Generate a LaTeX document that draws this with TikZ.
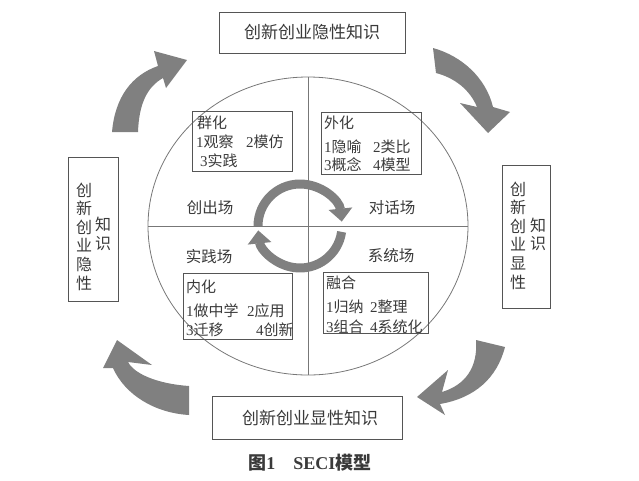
\documentclass[tikz,border=0pt]{standalone}
\usepackage{fontspec}
\setmainfont{Liberation Serif}
\newfontfamily\cjk{Noto Sans CJK SC}
\usetikzlibrary{arrows.meta}
\definecolor{inkgray}{HTML}{3A3A3A}
\definecolor{linegray}{HTML}{555555}
\definecolor{arrowgray}{HTML}{808080}
\newcommand{\szi}[1]{{\rmfamily #1}}
\begin{document}
\begin{tikzpicture}[x=1pt,y=-1pt,
		kbox/.style={draw=linegray,line width=0.9pt,inner sep=0pt},
		ktext/.style={text=inkgray,inner sep=0pt,font=\cjk\fontsize{15}{17}\selectfont},
		vtext/.style={text=inkgray,inner sep=0pt,align=center,font=\cjk\fontsize{16}{18.6}\selectfont},
		bigarrow/.style={fill=arrowgray},
		cyclearrow/.style={draw=arrowgray,line width=9pt,-{Triangle[width=23pt,length=13pt]}}]
		\useasboundingbox (0,0) rectangle (639,480);
		% ring and quadrants
		\coordinate (C) at (308,226);
		\draw[linegray!80,line width=0.8pt] (C) ellipse [x radius=160,y radius=149];
		\draw[linegray!80,line width=0.8pt] (308,77) coordinate (N) -- (308,375) coordinate (S);
		\draw[linegray!80,line width=0.8pt] (148,226) coordinate (W) -- (468,226) coordinate (E);
		% outer knowledge boxes
		\node[kbox,minimum width=186,minimum height=41] (tacitT) at (312,32.5) {};
		\node[ktext,font=\cjk\fontsize{17}{19}\selectfont] (tacitTt) at (tacitT) {创新创业隐性知识};
		\node[kbox,minimum width=190,minimum height=43] (explB) at (307,417.5) {};
		\node[ktext,font=\cjk\fontsize{17}{19}\selectfont] (explBt) at (310,418) {创新创业显性知识};
		\node[kbox,minimum width=50,minimum height=144] (tacitL) at (93,229) {};
		\node[vtext] (tacitLa) at (84,236.5) {创\\新\\创\\业\\隐\\性};
		\node[vtext] (tacitLb) at (103,234) {知\\识};
		\node[kbox,minimum width=48,minimum height=143] (explR) at (526,236.5) {};
		\node[vtext] (explRa) at (518,235.5) {创\\新\\创\\业\\显\\性};
		\node[vtext] (explRb) at (538,234.5) {知\\识};
		% big turning arrows
		\fill[bigarrow] (112,132) .. controls (115,97) and (132,75) .. (158,66) -- (154,51) -- (187,60) -- (166,88) -- (163,78) .. controls (147,87) and (139,104) .. (138,132) -- cycle;
		\fill[bigarrow] (433,48) .. controls (462,56) and (486,78) .. (493,107) -- (510,112) -- (488,133) -- (460,103) -- (477,107) .. controls (470,90) and (455,78) .. (436,73) -- cycle;
		\fill[bigarrow] (189,386) .. controls (160,384) and (135,375) .. (128,362) -- (152,365) -- (117,340) -- (103,368) -- (113,368) .. controls (125,395) and (155,413) .. (189,415) -- cycle;
		\fill[bigarrow] (476,340) .. controls (478,368) and (465,385) .. (442,392) -- (448,370) -- (417,397) -- (445,415) -- (440,404) .. controls (475,398) and (497,378) .. (505,347) -- cycle;
		% quadrant boxes
		\node[kbox,minimum width=100,minimum height=60] (soc) at (242,141) {};
		\node[ktext,anchor=west] (soc1) at (197,123) {群化};
		\node[ktext,anchor=west] (soc2) at (196,142) {\szi{1}观察};
		\node[ktext,anchor=west] (soc3) at (246,142) {\szi{2}模仿};
		\node[ktext,anchor=west] (soc4) at (200,161) {\szi{3}实践};
		\node[kbox,minimum width=100,minimum height=62] (ext) at (371,143) {};
		\node[ktext,anchor=west] (ext1) at (324,123) {外化};
		\node[ktext,anchor=west] (ext2) at (324,147) {\szi{1}隐喻};
		\node[ktext,anchor=west] (ext3) at (373,147) {\szi{2}类比};
		\node[ktext,anchor=west] (ext4) at (324,165) {\szi{3}概念};
		\node[ktext,anchor=west] (ext5) at (373,165) {\szi{4}模型};
		\node[kbox,minimum width=109,minimum height=66] (int) at (237.5,306) {};
		\node[ktext,anchor=west] (int1) at (186,287) {内化};
		\node[ktext,anchor=west] (int2) at (186,311) {\szi{1}做中学};
		\node[ktext,anchor=west] (int3) at (247,311) {\szi{2}应用};
		\node[ktext,anchor=west] (int4) at (186,330) {\szi{3}迁移};
		\node[ktext,anchor=west] (int5) at (256,330) {\szi{4}创新};
		\node[kbox,minimum width=105,minimum height=61] (com) at (375.5,302.5) {};
		\node[ktext,anchor=west] (com1) at (326,283) {融合};
		\node[ktext,anchor=west] (com2) at (326,307) {\szi{1}归纳};
		\node[ktext,anchor=west] (com3) at (370,307) {\szi{2}整理};
		\node[ktext,anchor=west] (com4) at (326,327) {\szi{3}组合};
		\node[ktext,anchor=west] (com5) at (370,327) {\szi{4}系统化};
		% ba labels
		\node[ktext,font=\cjk\fontsize{15.5}{17}\selectfont] (ba1) at (210,208) {创出场};
		\node[ktext,font=\cjk\fontsize{15.5}{17}\selectfont] (ba2) at (392,208) {对话场};
		\node[ktext,font=\cjk\fontsize{15.5}{17}\selectfont] (ba3) at (209,257) {实践场};
		\node[ktext,font=\cjk\fontsize{15.5}{17}\selectfont] (ba4) at (391,256) {系统场};
		% spiral in the middle
		\coordinate (M) at (300,226);
		\draw[cyclearrow] (M) ++(180:42) arc[start angle=180,end angle=354,radius=42];
		\draw[cyclearrow] (M) ++(8:42) arc[start angle=8,end angle=174,radius=42];
		% caption
		\node[text=inkgray,inner sep=0pt,font=\fontsize{18}{20}\selectfont\bfseries] (cap) at (310,463) {{\cjk 图}1\hspace{1em}SECI{\cjk 模型}};
	\end{tikzpicture}
\end{document}
